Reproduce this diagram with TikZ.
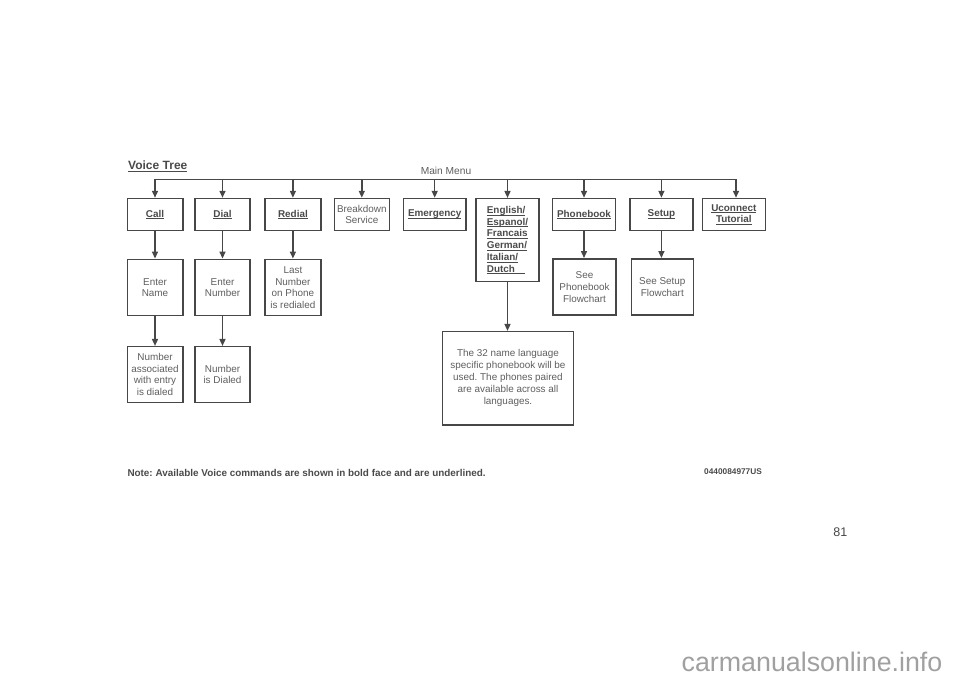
\documentclass[tikz,border=0pt]{standalone}
\usepackage{fontspec}
\setmainfont{Liberation Sans}
\usetikzlibrary{arrows.meta}
\definecolor{lc}{HTML}{474747}
\definecolor{tc}{HTML}{5E5E5E}
\definecolor{bc}{HTML}{4A4A4A}
\definecolor{wm}{HTML}{A0A0A0}
\newcommand\ulx[1]{\underline{\raisebox{0pt}[\height][0pt]{#1}}}
\frenchspacing
\begin{document}
\frenchspacing
\begin{tikzpicture}[x=1pt,y=-1pt,
  box/.style={draw=lc,line width=1.5pt,inner sep=0pt,align=center,text=tc,
    font=\fontsize{9.9}{11.7}\selectfont},
  cmd/.style={box,text=bc,font=\fontsize{9.9}{11.7}\selectfont\bfseries},
  arr/.style={draw=lc,line width=1.5pt,-{Triangle[length=7pt,width=6pt]}},
  bus/.style={draw=lc,line width=1.5pt,line cap=rect}]
\useasboundingbox (0,0) rectangle (960,678);

% title and labels
\node[anchor=west,text=bc,font=\fontsize{12}{14}\selectfont\bfseries,inner sep=0pt] (title) at (128,166) {\ulx{Voice Tree}};
\node[text=tc,font=\fontsize{10.2}{12}\selectfont,inner sep=0pt] (main) at (446,170.7) {Main Menu};

% top row
\node[cmd,minimum width=55.5pt,minimum height=32pt] (call) at (155,214.5) {\ulx{Call}};
\node[cmd,minimum width=55pt,minimum height=32pt] (dial) at (222.5,214.5) {\ulx{Dial}};
\node[cmd,minimum width=55.7pt,minimum height=32pt] (redial) at (292.9,214.5) {\ulx{Redial}};
\node[box,minimum width=55pt,minimum height=32pt] (brk) at (361.8,214.5) {Breakdown\\Service};
\node[cmd,minimum width=62.7pt,minimum height=32pt] (emerg) at (434.7,214.5) {\ulx{Emergency}};
\node[cmd,align=left,minimum width=63pt,minimum height=83pt] (lang) at (507.5,240.2)
  {\ulx{English/}\\\ulx{Espanol/}\\\ulx{Francais}\\\ulx{German/}\\\ulx{Italian/}\\\ulx{\makebox[38.5pt][l]{Dutch}}};
\node[cmd,minimum width=63.4pt,minimum height=32pt] (pbook) at (584,214.5) {\ulx{Phonebook}};
\node[cmd,minimum width=62.7pt,minimum height=32pt] (setup) at (661.4,214.5) {\ulx{Setup}};
\node[cmd,minimum width=63pt,minimum height=32pt] (ucon) at (733.8,214.5) {\ulx{Uconnect}\\\ulx{Tutorial}};

% second row
\node[box,minimum width=55.5pt,minimum height=56.4pt] (ename) at (155,287.5) {Enter\\Name};
\node[box,minimum width=55pt,minimum height=56.4pt] (enum) at (222.5,287.5) {Enter\\Number};
\node[box,minimum width=55.7pt,minimum height=56.4pt] (last) at (292.9,287.5) {Last\\Number\\on Phone\\is redialed};
\node[box,minimum width=63pt,minimum height=56.3pt] (seepb) at (584.5,286.9) {See\\Phonebook\\Flowchart};
\node[box,minimum width=62pt,minimum height=56.3pt] (seesu) at (662.3,286.9) {See Setup\\Flowchart};

% third row
\node[box,minimum width=55.5pt,minimum height=55.6pt] (assoc) at (155,374.5) {Number\\associated\\with entry\\is dialed};
\node[box,minimum width=55pt,minimum height=55.6pt] (dialed) at (222.5,374.5) {Number\\is Dialed};
\node[box,minimum width=130.6pt,minimum height=93.3pt,font=\fontsize{9.9}{12}\selectfont] (big) at (508,378.3)
  {The 32 name language\\specific phonebook will be\\used. The phones paired\\are available across all\\languages.};

% bus
\coordinate (busL) at (155,179.5);
\coordinate (busR) at (736,179.5);
\draw[bus] (busL) -- (busR);
\foreach \n in {call,dial,redial,brk,emerg,lang,pbook,setup}
  \draw[arr] (\n.north |- busL) -- (\n.north);
\draw[arr] (busR) -- (busR |- ucon.north);

% vertical connectors
\draw[arr] (call) -- (ename);
\draw[arr] (dial) -- (enum);
\draw[arr] (redial) -- (last);
\draw[arr] (pbook) -- (pbook |- seepb.north);
\draw[arr] (setup) -- (setup |- seesu.north);
\draw[arr] (ename) -- (assoc);
\draw[arr] (enum) -- (dialed);
\draw[arr] (lang) -- (lang |- big.north);

% footer
\node[anchor=west,text=bc,font=\fontsize{9.9}{12}\selectfont\bfseries,inner sep=0pt] (note) at (127.3,472.7)
  {Note: Available Voice commands are shown in bold face and are underlined.};
\node[anchor=west,text=bc,font=\fontsize{8.3}{10}\selectfont\bfseries,inner sep=0pt] (code) at (704,471.7) {0440084977US};
\node[text=lc,font=\fontsize{12.5}{14}\selectfont,inner sep=0pt] (page) at (840.3,531.7) {81};
\node[text=wm,font=\fontsize{26.8}{30}\selectfont,inner sep=0pt] (wmark) at (812,661.7) {carmanualsonline.info};
\end{tikzpicture}
\end{document}
